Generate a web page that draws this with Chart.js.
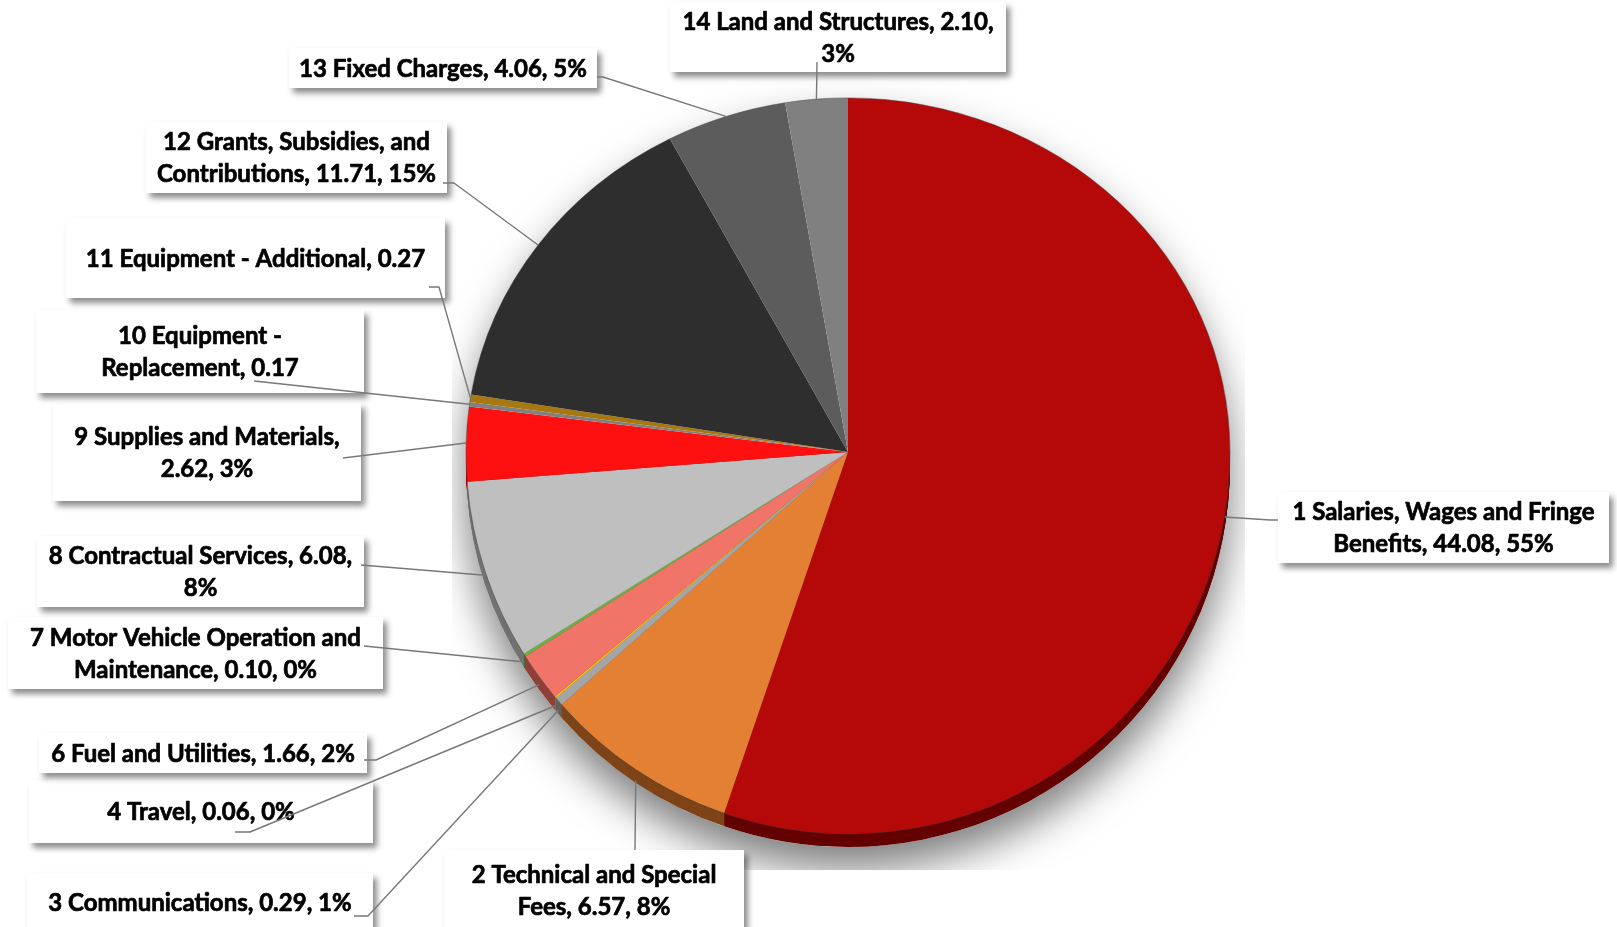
<!DOCTYPE html>
<html>
<head>
<meta charset="utf-8">
<script src="https://cdn.jsdelivr.net/npm/chart.js@4.4.0/dist/chart.umd.min.js"></script>
<style>
  html, body { margin: 0; padding: 0; background: #fff; }
  #wrap { width: 1617px; height: 927px; }
</style>
</head>
<body>
<div id="wrap"><canvas id="pie" width="1617" height="927"></canvas></div>
<script>
// Expenditure categories, clockwise from 12 o'clock
const categories = [
  '1 Salaries, Wages and Fringe Benefits',
  '2 Technical and Special Fees',
  '3 Communications',
  '4 Travel',
  '6 Fuel and Utilities',
  '7 Motor Vehicle Operation and Maintenance',
  '8 Contractual Services',
  '9 Supplies and Materials',
  '10 Equipment - Replacement',
  '11 Equipment - Additional',
  '12 Grants, Subsidies, and Contributions',
  '13 Fixed Charges',
  '14 Land and Structures'
];
const amounts = [44.08, 6.57, 0.29, 0.06, 1.66, 0.10, 6.08, 2.62, 0.17, 0.27, 11.71, 4.06, 2.10];
// percent shown in each callout (none for the two equipment lines)
const percents = [55, 8, 1, 0, 2, 0, 8, 3, null, null, 15, 5, 3];

const sliceColors = [
  '#b50808', '#e38034', '#a5a5a5', '#ffc000', '#f07568', '#70ad47', '#bfbfbf',
  '#ff1010', '#808080', '#a87810', '#2e2e2e', '#5c5c5c', '#808080'
];
const rimColors = [
  '#640000', '#7e4418', '#606060', '#9a7400', '#8e4038', '#42682a', '#727272',
  '#960808', '#4c4c4c', '#644808', '#1a1a1a', '#363636', '#4c4c4c'
];

// callout boxes: [x, y, w, h], words on first line, leader anchor, optional elbow
const calloutLayout = [
  { box: [1278, 492, 331, 71], split: 5, anchor: [1278, 520], elbow: [1270, 520] },
  { box: [444, 850, 300, 80], split: 4, anchor: [635, 850], elbow: null },
  { box: [27, 873, 346, 58], split: 0, anchor: [354, 916], elbow: [368, 916] },
  { box: [29, 780, 344, 63], split: 0, anchor: [235, 832], elbow: [250, 832] },
  { box: [39, 733, 328, 40], split: 0, anchor: [364, 760], elbow: [376, 760] },
  { box: [8, 617, 375, 72], split: 5, anchor: [364, 646], elbow: null },
  { box: [37, 536, 327, 71], split: 4, anchor: [361, 565], elbow: null },
  { box: [53, 403, 308, 98], split: 4, anchor: [343, 458], elbow: null },
  { box: [36, 310, 328, 83], split: 3, anchor: [254, 381], elbow: null },
  { box: [66, 218, 379, 80], split: 0, anchor: [429, 287], elbow: [439, 287] },
  { box: [146, 122, 301, 71], split: 4, anchor: [443, 183], elbow: [454, 183] },
  { box: [289, 48, 308, 40], split: 0, anchor: [597, 77], elbow: [603, 77] },
  { box: [670, 2, 336, 70], split: 5, anchor: [817, 62], elbow: null }
];

const TILT = 0.927;   // upper half of the disc is squashed to look tilted
const DEPTH = 13;     // thickness of the visible edge
const FONT = 'bold 24px Lato';
const LINE_H = 32;
const SHADOW_BOX = [452, 0, 793, 870];  // shadow is cut off at the plot area

function labelText(i) {
  let s = categories[i] + ', ' + amounts[i].toFixed(2);
  if (percents[i] !== null) s += ', ' + percents[i] + '%';
  return s;
}

function labelLines(i) {
  const words = labelText(i).split(' ');
  const n = calloutLayout[i].split;
  if (!n) return [words.join(' ')];
  return [words.slice(0, n).join(' '), words.slice(n).join(' ')];
}

// point on the outer edge at the middle of a slice
function edgePoint(a) {
  const mid = (a.startAngle + a.endAngle) / 2;
  const dx = Math.cos(mid) * a.outerRadius;
  const dy = Math.sin(mid) * a.outerRadius;
  if (dy < 0) return [a.x + dx, a.y + dy * TILT];
  return [a.x + dx, a.y + dy + DEPTH * dy / a.outerRadius];
}

function discOutline(ctx, cx, cy, r, depth) {
  ctx.beginPath();
  ctx.ellipse(cx, cy, r, r * TILT, 0, Math.PI, 2 * Math.PI);
  ctx.lineTo(cx + r, cy + depth);
  ctx.arc(cx, cy + depth, r, 0, Math.PI);
  ctx.closePath();
}

const tiltedPie = {
  id: 'tiltedPie',
  beforeDatasetsDraw(chart) {
    const ctx = chart.ctx;
    const arcs = chart.getDatasetMeta(0).data;
    const cx = arcs[0].x, cy = arcs[0].y, r = arcs[0].outerRadius;

    // soft shadow under the disc
    ctx.save();
    ctx.beginPath();
    ctx.rect(...SHADOW_BOX);
    ctx.clip();
    ctx.shadowColor = 'rgba(0,0,0,0.5)';
    ctx.shadowBlur = 40;
    ctx.shadowOffsetY = 22;
    ctx.fillStyle = '#fff';
    discOutline(ctx, cx, cy, r, DEPTH);
    ctx.fill();
    ctx.restore();

    // edge of the disc
    ctx.save();
    ctx.beginPath();
    ctx.rect(0, cy, chart.width, chart.height - cy);
    ctx.clip();
    for (let d = DEPTH; d >= 1; d--) {
      arcs.forEach((a, i) => {
        ctx.beginPath();
        ctx.moveTo(a.x, a.y + d);
        ctx.arc(a.x, a.y + d, a.outerRadius, a.startAngle, a.endAngle);
        ctx.closePath();
        ctx.fillStyle = rimColors[i];
        ctx.fill();
      });
    }
    ctx.restore();

    // top face: upper half squashed, lower half unchanged
    ctx.save();
    ctx.beginPath();
    ctx.rect(0, 0, chart.width, cy);
    ctx.clip();
    ctx.translate(0, cy);
    ctx.scale(1, TILT);
    ctx.translate(0, -cy);
    arcs.forEach(a => a.draw(ctx));
    ctx.restore();

    ctx.save();
    ctx.beginPath();
    ctx.rect(0, cy, chart.width, chart.height - cy);
    ctx.clip();
    arcs.forEach(a => a.draw(ctx));
    ctx.restore();

    // thin outline round the top face
    ctx.save();
    ctx.strokeStyle = 'rgba(60,60,60,0.45)';
    ctx.lineWidth = 1;
    ctx.beginPath();
    ctx.ellipse(cx, cy, r, r * TILT, 0, Math.PI, 2 * Math.PI);
    ctx.arc(cx, cy, r, 0, Math.PI);
    ctx.stroke();
    ctx.restore();
    return false;
  }
};

const callouts = {
  id: 'callouts',
  afterDraw(chart) {
    const ctx = chart.ctx;
    const arcs = chart.getDatasetMeta(0).data;
    ctx.save();
    ctx.font = FONT;
    // narrow the face a little so lines keep their width
    const squeeze = Math.min(1, 292 / ctx.measureText(labelText(11)).width);

    // boxes
    calloutLayout.forEach(c => {
      const [x, y, w, h] = c.box;
      ctx.save();
      ctx.shadowColor = 'rgba(0,0,0,0.45)';
      ctx.shadowBlur = 6;
      ctx.shadowOffsetX = 4;
      ctx.shadowOffsetY = 5;
      ctx.fillStyle = '#fff';
      ctx.fillRect(x, y, w, h);
      ctx.restore();
    });

    // text, stroked lightly to get a heavier face
    ctx.fillStyle = '#000';
    ctx.strokeStyle = '#000';
    ctx.lineWidth = 0.7;
    ctx.lineJoin = 'round';
    ctx.textAlign = 'center';
    ctx.textBaseline = 'middle';
    calloutLayout.forEach((c, i) => {
      const [x, y, w, h] = c.box;
      const lines = labelLines(i);
      lines.forEach((line, j) => {
        const ty = y + h / 2 + (j - (lines.length - 1) / 2) * LINE_H + 1;
        ctx.save();
        ctx.translate(x + w / 2, ty);
        ctx.scale(squeeze, 1);
        ctx.fillText(line, 0, 0);
        ctx.strokeText(line, 0, 0);
        ctx.restore();
      });
    });

    // leader lines
    ctx.strokeStyle = '#787878';
    ctx.lineWidth = 1.4;
    calloutLayout.forEach((c, i) => {
      const p = edgePoint(arcs[i]);
      ctx.beginPath();
      ctx.moveTo(c.anchor[0], c.anchor[1]);
      if (c.elbow) ctx.lineTo(c.elbow[0], c.elbow[1]);
      ctx.lineTo(p[0], p[1]);
      ctx.stroke();
    });
    ctx.restore();
  }
};

new Chart(document.getElementById('pie'), {
  type: 'pie',
  data: {
    labels: categories,
    datasets: [{
      data: amounts,
      backgroundColor: sliceColors,
      borderWidth: 0
    }]
  },
  options: {
    responsive: false,
    animation: false,
    devicePixelRatio: 1,
    layout: { padding: { left: 466, right: 387, top: 70, bottom: 93 } },
    plugins: {
      legend: { display: false },
      tooltip: { enabled: false }
    }
  },
  plugins: [tiltedPie, callouts]
});
</script>
</body>
</html>
